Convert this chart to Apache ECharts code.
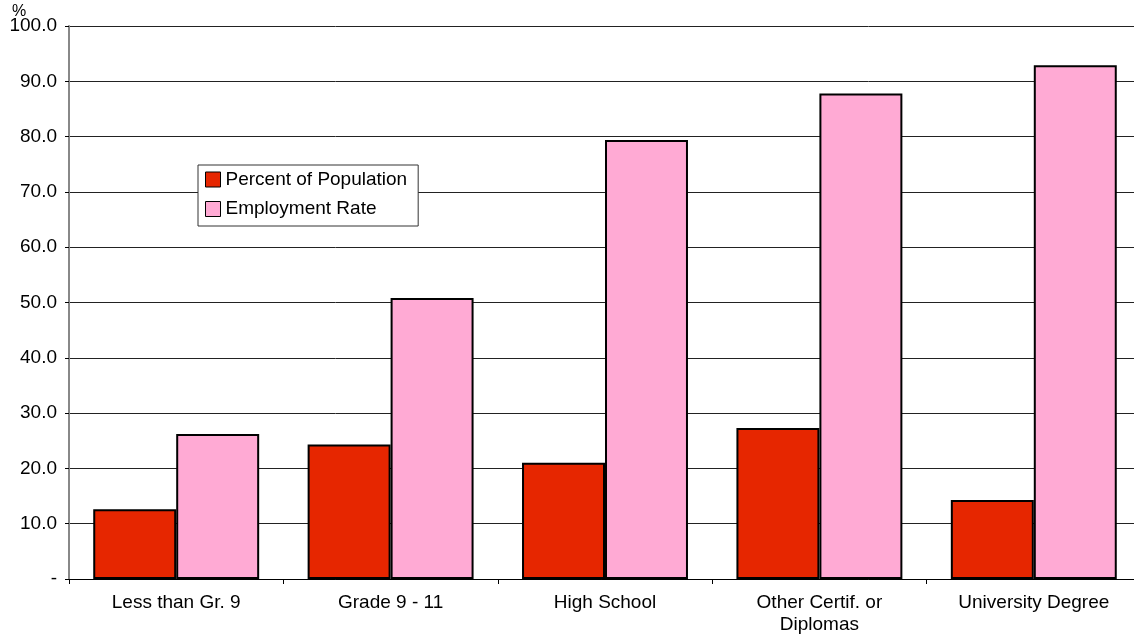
<!DOCTYPE html>
<html><head><meta charset="utf-8">
<script src="https://cdn.jsdelivr.net/npm/echarts@6/dist/echarts.min.js"></script>
<style>html,body{margin:0;padding:0;background:#fff;overflow:hidden}#c{width:1134px;height:635px}</style>
</head><body><div id="c"></div>
<script>
const categories = ['Less than Gr. 9', 'Grade 9 - 11', 'High School', 'Other Certif. or\nDiplomas', 'University Degree'];
const percentOfPopulation = [12.6, 24.3, 21.0, 27.3, 14.3];
const employmentRate = [26.2, 50.8, 79.4, 87.8, 92.9];
const yTickLabels = {0: '-', 10: '10.0', 20: '20.0', 30: '30.0', 40: '40.0', 50: '50.0', 60: '60.0', 70: '70.0', 80: '80.0', 90: '90.0', 100: '100.0'};

const font = 'Liberation Sans, Arial, Helvetica, sans-serif';
const chart = echarts.init(document.getElementById('c'));
chart.setOption({
  animation: false,
  textStyle: {fontFamily: font},
  grid: {left: 69, width: 1072, top: 26, height: 553, containLabel: false, outerBoundsMode: 'none'},
  legend: {
    left: 198, top: 165, orient: 'vertical', itemGap: 10.5,
    padding: [5, 11, 7.5, 7],
    borderColor: '#333', borderWidth: 1, backgroundColor: '#fff',
    itemWidth: 15, itemHeight: 15, icon: 'rect',
    itemStyle: {borderColor: '#000', borderWidth: 1},
    textStyle: {fontSize: 19, color: '#000', fontFamily: font},
    data: ['Percent of Population', 'Employment Rate']
  },
  graphic: [{type: 'text', left: 12, top: 4, style: {text: '%', fontSize: 16, fill: '#000', fontFamily: font}}],
  xAxis: {
    type: 'category', data: categories,
    axisLine: {lineStyle: {color: '#000', width: 1}},
    axisTick: {show: true, length: 5, lineStyle: {color: '#000'}},
    axisLabel: {fontSize: 19, color: '#000', margin: 13, lineHeight: 22, fontFamily: font}
  },
  yAxis: {
    type: 'value', min: 0, max: 100, interval: 10,
    axisLine: {show: true, lineStyle: {color: '#888', width: 2}},
    axisTick: {show: true, length: 4, lineStyle: {color: '#000'}},
    splitLine: {lineStyle: {color: '#222', width: 1}},
    axisLabel: {fontSize: 19, color: '#000', margin: 12, fontFamily: font,
      formatter: v => yTickLabels[v]}
  },
  series: [
    {name: 'Percent of Population', type: 'bar', data: percentOfPopulation,
      barGap: '0%', barCategoryGap: '22.6%',
      itemStyle: {color: '#e62600', borderColor: '#000', borderWidth: 2}},
    {name: 'Employment Rate', type: 'bar', data: employmentRate,
      itemStyle: {color: '#ffaad4', borderColor: '#000', borderWidth: 2}}
  ]
});
</script></body></html>
